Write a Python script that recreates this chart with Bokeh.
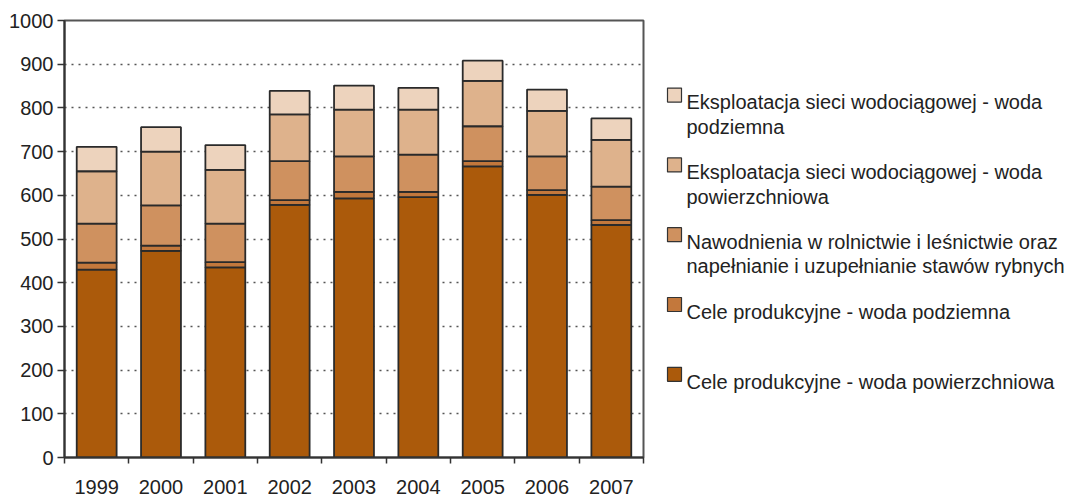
from bokeh.plotting import figure
from bokeh.models import ColumnDataSource, Range1d, FixedTicker
from bokeh.layouts import row
from bokeh.core.properties import value
from bokeh.embed import file_html
from bokeh.resources import INLINE

years = ["1999", "2000", "2001", "2002", "2003", "2004", "2005", "2006", "2007"]
surface_prod = [430, 473, 435, 578, 593, 596, 666, 601, 532]
ground_prod = [16, 12, 12, 11, 15, 12, 12, 11, 11]
irrigation = [89, 92, 88, 89, 81, 85, 80, 77, 77]
network_surface = [120, 123, 123, 107, 107, 103, 104, 104, 107]
network_ground = [56, 56, 57, 54, 55, 50, 46, 49, 49]
y_ticks = [0, 100, 200, 300, 400, 500, 600, 700, 800, 900, 1000]

series_keys = ["surface_prod", "ground_prod", "irrigation", "network_surface", "network_ground"]
series_labels = [
    "Cele produkcyjne - woda powierzchniowa",
    "Cele produkcyjne - woda podziemna",
    "Nawodnienia w rolnictwie i leśnictwie oraz\nnapełnianie i uzupełnianie stawów rybnych",
    "Eksploatacja sieci wodociągowej - woda\npowierzchniowa",
    "Eksploatacja sieci wodociągowej - woda\npodziemna",
]
colors = ["#AB5A0B", "#C3783C", "#CF915F", "#DEB28C", "#EDD3BD"]

FONT = "Liberation Sans"
TEXT_COLOR = "#222222"

xs = [i + 0.5 for i in range(len(years))]
source = ColumnDataSource(dict(
    x=xs, year=years,
    surface_prod=surface_prod, ground_prod=ground_prod, irrigation=irrigation,
    network_surface=network_surface, network_ground=network_ground,
))

# ---------------- main chart ----------------
MAIN_W, H = 645, 496
TOP, BOTTOM = 20, 39
p = figure(width=MAIN_W, height=H, output_backend="svg", toolbar_location=None,
           x_range=Range1d(0, len(years)), y_range=Range1d(0, 1000),
           min_border_left=64, min_border_right=2, min_border_top=TOP, min_border_bottom=BOTTOM)

renderers = p.vbar_stack(series_keys, x="x", width=0.62, color=colors, source=source,
                         line_color="#2a2a2a", line_width=1.8)

p.xaxis.ticker = FixedTicker(ticks=xs, minor_ticks=list(range(len(years) + 1)))
p.xaxis.major_label_overrides = {x: y for x, y in zip(xs, years)}
p.xaxis.major_tick_out = 0
p.xaxis.major_tick_in = 0
p.xaxis.minor_tick_out = 6
p.xaxis.minor_tick_in = 0
p.xaxis.minor_tick_line_color = "#333333"
p.xaxis.minor_tick_line_width = 1.5
p.xaxis.major_label_standoff = 16

p.yaxis.ticker = FixedTicker(ticks=y_ticks)
p.yaxis.minor_tick_line_color = None
p.yaxis.major_tick_out = 7
p.yaxis.major_tick_in = 0
p.yaxis.major_tick_line_color = "#333333"
p.yaxis.major_tick_line_width = 1.5
p.yaxis.major_label_standoff = 4

for ax in (p.xaxis, p.yaxis):
    ax.axis_line_color = "#333333"
    ax.axis_line_width = 2
    ax.major_label_text_font = FONT
    ax.major_label_text_font_size = "20px"
    ax.major_label_text_color = TEXT_COLOR

p.xgrid.grid_line_color = None
p.ygrid.ticker = FixedTicker(ticks=y_ticks[1:-1])
p.ygrid.grid_line_color = "#555555"
p.ygrid.grid_line_dash = "2 5"
p.ygrid.grid_line_width = 1.3

p.outline_line_color = "#555555"
p.outline_line_width = 2
p.background_fill_color = "white"
p.border_fill_color = "white"

# ---------------- legend panel (coordinates = page pixels) ----------------
LW = 1068 - MAIN_W
lg = figure(width=LW, height=H, output_backend="svg", toolbar_location=None,
            x_range=Range1d(MAIN_W, MAIN_W + LW), y_range=Range1d(H - BOTTOM, TOP),
            x_axis_type=None, y_axis_type=None,
            min_border_left=0, min_border_right=0, min_border_top=TOP, min_border_bottom=BOTTOM)
lg.grid.visible = False
lg.outline_line_color = None
lg.background_fill_color = "white"
lg.border_fill_color = "white"

first_baseline = 101.8
item_pitch = 69.8
line_pitch = 24.5
swatch_x = 674
text_x = 686

order = list(range(len(series_labels)))[::-1]   # lightest on top
sw_x, sw_y, sw_c = [], [], []
tx, ty, tt = [], [], []
for slot, idx in enumerate(order):
    base = first_baseline + slot * item_pitch
    sw_x.append(swatch_x)
    sw_y.append(base - 7.2)
    sw_c.append(colors[idx])
    for k, line in enumerate(series_labels[idx].split("\n")):
        tx.append(text_x)
        ty.append(base + k * line_pitch)
        tt.append(line)

lg.rect(x=sw_x, y=sw_y, width=14, height=14, fill_color=sw_c,
        line_color="#333333", line_width=1.2)
lg.text(x=tx, y=ty, text=tt, text_font=value(FONT), text_font_size="20px",
        text_color=TEXT_COLOR, text_align="left", text_baseline="alphabetic")

layout = row(p, lg)
open("out.html", "w").write(file_html(layout, INLINE))
